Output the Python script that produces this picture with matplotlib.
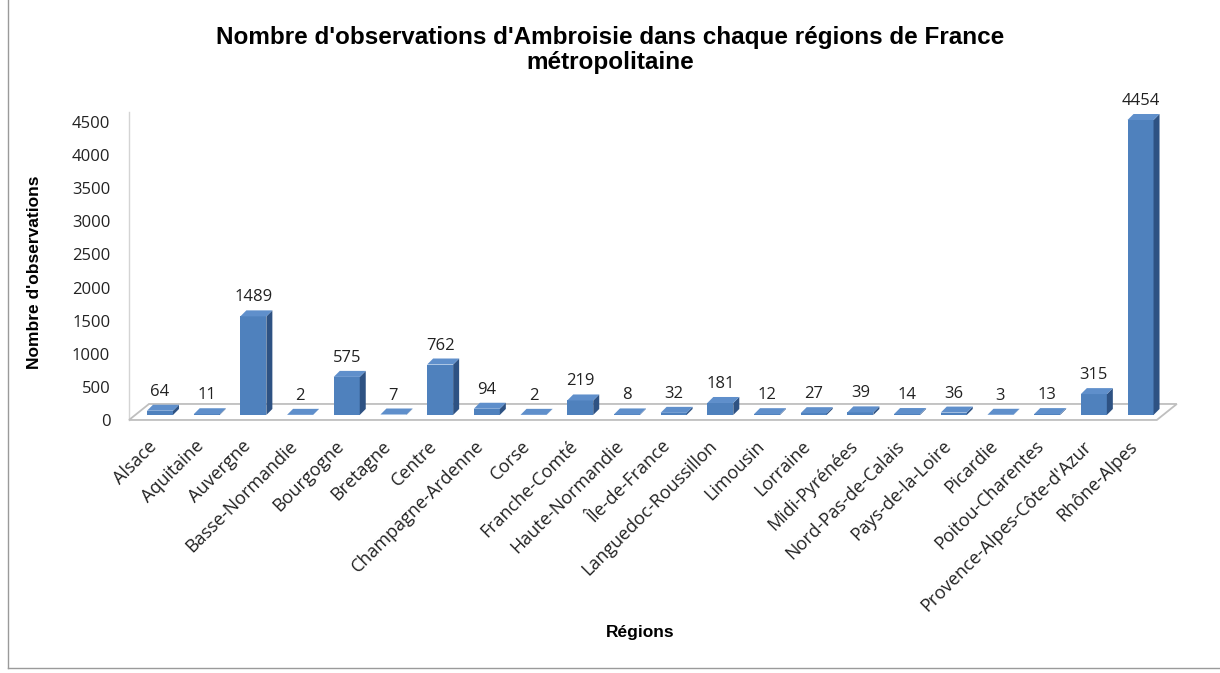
import matplotlib
matplotlib.use("Agg")
import matplotlib.pyplot as plt
from matplotlib.patches import Polygon
from matplotlib.lines import Line2D
from matplotlib.transforms import ScaledTranslation
import numpy as np

regions = ["Alsace", "Aquitaine", "Auvergne", "Basse-Normandie", "Bourgogne", "Bretagne",
           "Centre", "Champagne-Ardenne", "Corse", "Franche-Comté", "Haute-Normandie",
           "Île-de-France", "Languedoc-Roussillon", "Limousin", "Lorraine", "Midi-Pyrénées",
           "Nord-Pas-de-Calais", "Pays-de-la-Loire", "Picardie", "Poitou-Charentes",
           "Provence-Alpes-Côte-d'Azur", "Rhône-Alpes"]
observations = [64, 11, 1489, 2, 575, 7, 762, 94, 2, 219, 8, 32, 181, 12, 27, 39, 14, 36, 3, 13, 315, 4454]
yticks = [0, 500, 1000, 1500, 2000, 2500, 3000, 3500, 4000, 4500]

front = "#4f81bd"
side = "#2e5283"
top = "#5f8fcb"

fig = plt.figure(figsize=(12.2, 6.73), dpi=100)
ax = fig.add_axes([0.112, 0.3834, 0.842, 0.4428])
x = np.arange(len(regions))
n = len(regions)
ymax = 4500
px_y = ymax / 298.0   # data units per pixel (vertical)
px_x = 1 / 46.7       # data units per pixel (horizontal)
w = 26 * px_x
dx = 6 * px_x
dy = 6 * px_y

ax.set_xlim(-0.5, n - 0.5)
ax.set_ylim(0, ymax)

# floor (3D base)
f_front = -5 * px_y
f_back = 11 * px_y
fl_l = (129 - 160) * px_x
fl_r = (1157 - 160) * px_x
fdx = 20 * px_x
floor = Polygon([(fl_l, f_front), (fl_r, f_front), (fl_r + fdx, f_back), (fl_l + fdx, f_back)],
                closed=True, facecolor="white", edgecolor="#bfbfbf", lw=1.3,
                clip_on=False, zorder=0.5)
ax.add_patch(floor)
ax.add_line(Line2D([fl_l, fl_l], [f_front, ymax + 5 * px_y], color="#d4d4d4",
                   lw=1.0, clip_on=False, zorder=0.4))

ax.bar(x, observations, width=w, color=front, edgecolor="none", zorder=2)
for xi, v in zip(x, observations):
    l, r = xi - w / 2, xi + w / 2
    ax.add_patch(Polygon([(r, 0), (r + dx, dy), (r + dx, v + dy), (r, v)], closed=True,
                         facecolor=side, edgecolor="none", zorder=2, clip_on=False))
    ax.add_patch(Polygon([(l, v), (r, v), (r + dx, v + dy), (l + dx, v + dy)], closed=True,
                         facecolor=top, edgecolor="none", zorder=2, clip_on=False))
    ax.text(xi, v + dy + 13 * px_y, str(v), ha="center", va="center",
            fontsize=12, color="#222222", family="Open Sans", clip_on=False)

for s in ax.spines.values():
    s.set_visible(False)
ax.set_yticks(yticks)
ax.set_yticklabels([str(t) for t in yticks], family="Open Sans", fontsize=12, color="#222222")
ax.tick_params(axis="y", length=0, pad=19)
for lab in ax.get_yticklabels():
    lab.set_transform(lab.get_transform() + ScaledTranslation(0, -5 / 100, fig.dpi_scale_trans))
ax.set_xticks(x)
ax.set_xticklabels(regions, rotation=45, ha="right", rotation_mode="anchor",
                   family="Open Sans", fontsize=13, color="#222222")
ax.tick_params(axis="x", length=0, pad=16)
for lab in ax.get_xticklabels():
    lab.set_transform(lab.get_transform() + ScaledTranslation(-12 / 100, 0, fig.dpi_scale_trans))
ax.set_facecolor("none")

fig.text(35 / 1220, 1 - 272 / 673, "Nombre d'observations", rotation=90, ha="center",
         va="center", fontsize=12.5, fontweight="bold", family="Liberation Sans")
fig.text(640 / 1220, 1 - 633 / 673, "Régions", ha="center", va="center", fontsize=12.5,
         fontweight="bold", family="Liberation Sans")
fig.text(610 / 1220, 1 - 50 / 673,
         "Nombre d'observations d'Ambroisie dans chaque régions de France\nmétropolitaine",
         ha="center", va="center", fontsize=17.5, fontweight="bold",
         family="Liberation Sans", linespacing=1.1)

fig.add_artist(Line2D([8 / 1220, 8 / 1220], [1 - 668 / 673, 1.0], color="#9a9a9a", lw=1.0))
fig.add_artist(Line2D([8 / 1220, 1.0], [1 - 668 / 673, 1 - 668 / 673], color="#9a9a9a", lw=1.0))

fig.savefig("out.png", dpi=100)
